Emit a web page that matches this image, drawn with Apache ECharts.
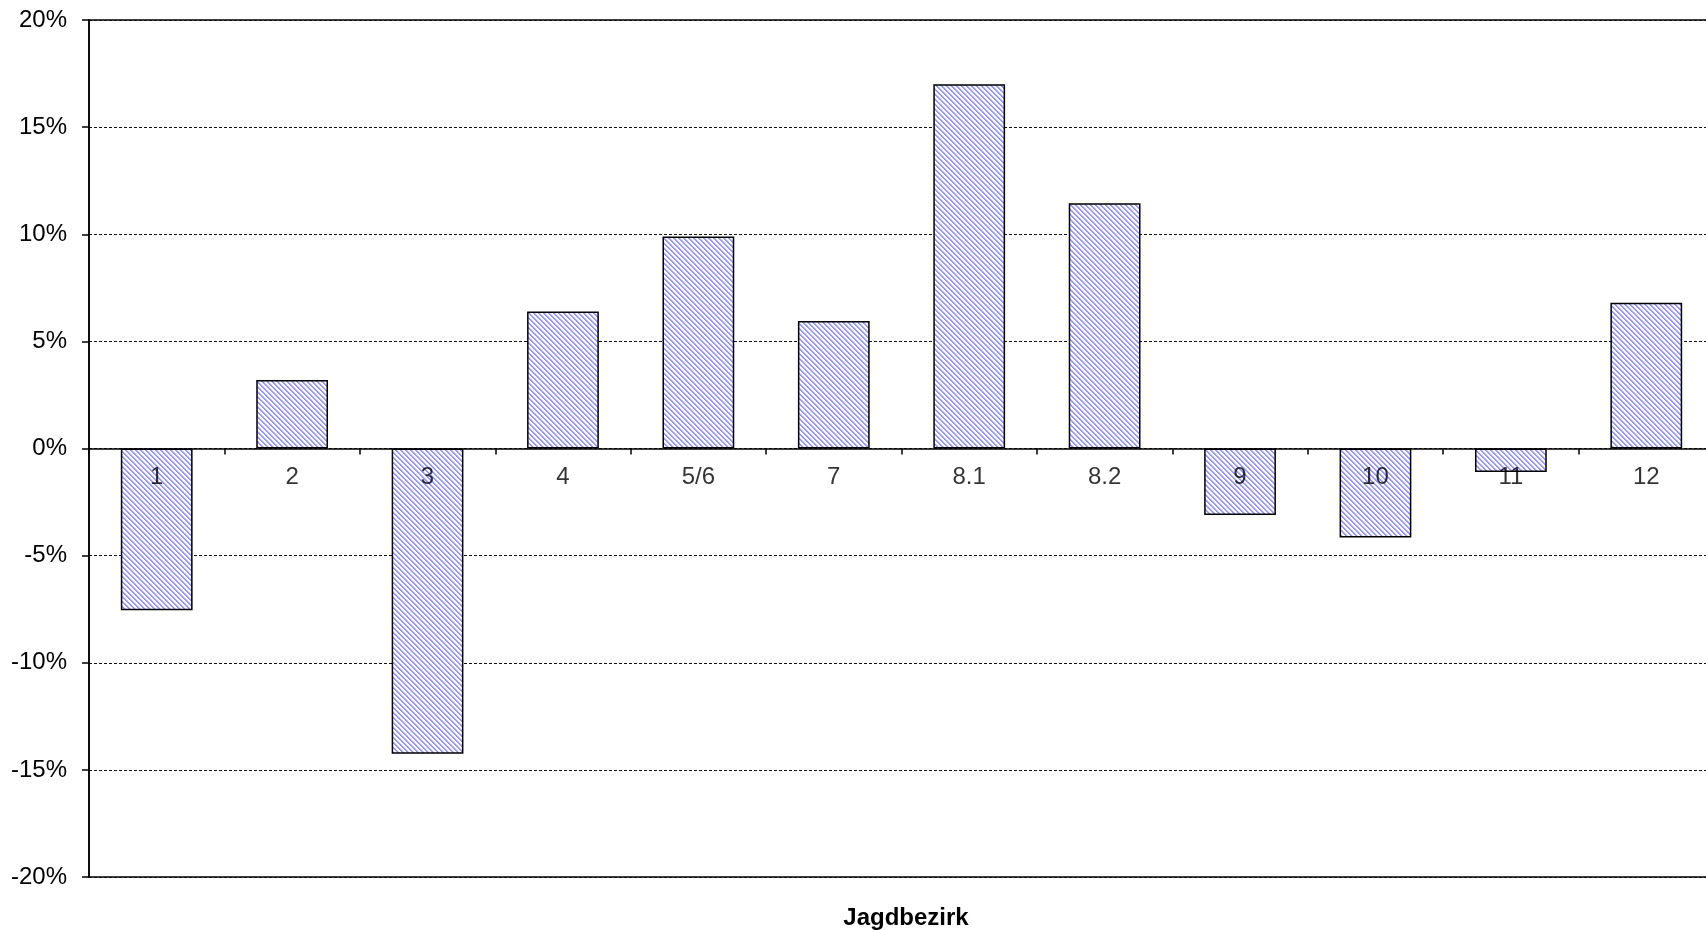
<!DOCTYPE html>
<html>
<head>
<meta charset="utf-8">
<script src="https://cdn.jsdelivr.net/npm/echarts@6/dist/echarts.min.js"></script>
<style>
html,body{margin:0;padding:0;background:#fff;overflow:hidden;width:1706px;height:930px;}
#chart{width:1720px;height:930px;}
</style>
</head>
<body>
<div id="chart"></div>
<script>
const categories = ['1','2','3','4','5/6','7','8.1','8.2','9','10','11','12'];
const values = [-7.55, 3.2, -14.25, 6.4, 9.9, 5.95, 17.0, 11.45, -3.1, -4.15, -1.1, 6.8];
const yTicks = { min: -20, max: 20, interval: 5 };
const axisTitle = 'Jagdbezirk';

// hatch pattern (backslash stripes)
const P = 5;
const pc = document.createElement('canvas');
pc.width = P; pc.height = P;
const pctx = pc.getContext('2d');
const img = pctx.createImageData(P, P);
for (let y = 0; y < P; y++) {
  for (let x = 0; x < P; x++) {
    const i = (y * P + x) * 4;
    const k = ((x - y) % P + P) % P;
    let r = 255, g = 255, b = 255;
    if (k < 2) { r = 0x99; g = 0x99; b = 0xff; }
    else if (k === 2) { r = 0xdd; g = 0xdd; b = 0xff; }
    img.data[i] = r; img.data[i+1] = g; img.data[i+2] = b; img.data[i+3] = 255;
  }
}
pctx.putImageData(img, 0, 0);

const FONT = "'Liberation Sans', Arial, sans-serif";
const FS = 24;
const chart = echarts.init(document.getElementById('chart'));
chart.setOption({
  animation: false,
  backgroundColor: '#fff',
  title: {
    text: axisTitle,
    left: 901,
    top: 901,
    textAlign: 'center',
    textStyle: { fontFamily: FONT, fontSize: FS, fontWeight: 'bold', color: '#000' }
  },
  grid: {
    left: 89, top: 20, right: 6, bottom: 53,
    show: true, borderColor: '#000', borderWidth: 1.5, backgroundColor: 'transparent'
  },
  xAxis: {
    type: 'category',
    data: categories,
    axisLine: { onZero: true, lineStyle: { color: '#000', width: 1.5 } },
    axisTick: { show: true, inside: false, length: 6, lineStyle: { color: '#000', width: 1.5 } },
    axisLabel: { show: false },
    splitLine: { show: false },
    z: 5
  },
  yAxis: {
    type: 'value',
    min: yTicks.min, max: yTicks.max, interval: yTicks.interval,
    axisLine: { show: true, lineStyle: { color: '#000', width: 1.5 } },
    axisTick: { show: true, length: 7, lineStyle: { color: '#000', width: 1.5 } },
    axisLabel: { margin: 22, fontFamily: FONT, fontSize: FS, color: '#000', formatter: '{value}%' },
    splitLine: { show: true, lineStyle: { color: '#111', width: 1.2, type: [3, 2] } }
  },
  series: [{
    type: 'bar',
    data: values,
    barWidth: '53%',
    itemStyle: {
      color: { image: pc, repeat: 'repeat' },
      borderColor: '#000',
      borderWidth: 1.5
    },
    z: 3
  }, {
    type: 'scatter',
    data: categories.map(c => [c, 0]),
    symbolSize: 0,
    silent: true,
    label: {
      show: true,
      position: 'bottom',
      distance: 17,
      formatter: p => p.data[0],
      fontFamily: FONT, fontSize: FS, color: '#000'
    },
    z: 6
  }]
});
</script>
</body>
</html>
